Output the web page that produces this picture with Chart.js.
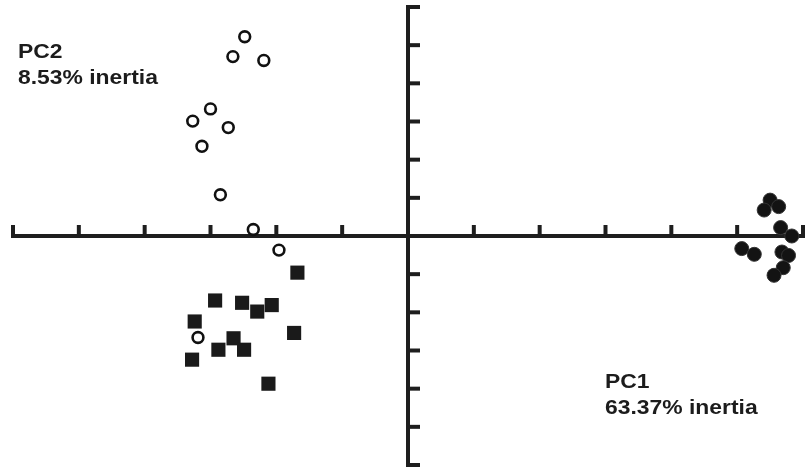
<!DOCTYPE html>
<html>
<head>
<meta charset="utf-8">
<script src="https://cdn.jsdelivr.net/npm/chart.js@4"></script>
<style>
  html, body { margin: 0; padding: 0; background: #ffffff; }
  #wrap { width: 811px; height: 470px; position: relative; }
</style>
</head>
<body>
<div id="wrap"><canvas id="c"></canvas></div>
<script>
// Tick values along both principal-component axes
const xTicks = [-6, -5, -4, -3, -2, -1, 0, 1, 2, 3, 4, 5, 6];
const yTicks = [-6, -5, -4, -3, -2, -1, 0, 1, 2, 3, 4, 5, 6];

// Group 1: open circles
const openX = [-2.48, -2.66, -2.19, -3.00, -3.27, -2.73, -3.13, -2.85, -2.35, -1.96, -3.19];
const openY = [5.22, 4.70, 4.60, 3.33, 3.01, 2.84, 2.35, 1.08, 0.17, -0.37, -2.66];

// Group 2: filled squares
const squareX = [-1.68, -2.93, -2.52, -2.07, -2.29, -3.24, -1.73, -2.65, -2.88, -2.49, -3.28, -2.12];
const squareY = [-0.96, -1.69, -1.75, -1.81, -1.98, -2.24, -2.54, -2.68, -2.98, -2.98, -3.24, -3.87];

// Group 3: filled circles
const dotX = [5.50, 5.41, 5.63, 5.66, 5.83, 5.07, 5.26, 5.68, 5.78, 5.70, 5.56];
const dotY = [0.94, 0.68, 0.77, 0.22, 0.00, -0.33, -0.48, -0.42, -0.51, -0.83, -1.03];

// Axis captions
const labelPC2 = ["PC2", "8.53% inertia"];
const labelPC1 = ["PC1", "63.37% inertia"];

function pts(xs, ys) { return xs.map((x, i) => ({ x: x, y: ys[i] })); }

const AXIS = '#1e1e1e';

const axesPlugin = {
  id: 'centerAxes',
  beforeDatasetsDraw(chart) {
    const ctx = chart.ctx;
    const xs = chart.scales.x, ys = chart.scales.y;
    const x0 = xs.getPixelForValue(0), y0 = ys.getPixelForValue(0);
    const xl = xs.getPixelForValue(xTicks[0]), xr = xs.getPixelForValue(xTicks[xTicks.length - 1]);
    const yt = ys.getPixelForValue(yTicks[yTicks.length - 1]), yb = ys.getPixelForValue(yTicks[0]);
    ctx.save();
    ctx.strokeStyle = AXIS;
    ctx.lineWidth = 4;
    ctx.lineCap = 'butt';
    // horizontal axis
    ctx.beginPath();
    ctx.moveTo(xl - 2, y0); ctx.lineTo(xr + 2, y0);
    ctx.stroke();
    // vertical axis
    ctx.beginPath();
    ctx.moveTo(x0, yt - 2); ctx.lineTo(x0, yb + 2);
    ctx.stroke();
    // x ticks (upward)
    xTicks.forEach(v => {
      if (v === 0) return;
      const px = xs.getPixelForValue(v);
      ctx.beginPath();
      ctx.moveTo(px, y0); ctx.lineTo(px, y0 - 11);
      ctx.stroke();
    });
    // y ticks (to the right)
    yTicks.forEach(v => {
      if (v === 0) return;
      const py = ys.getPixelForValue(v);
      ctx.beginPath();
      ctx.moveTo(x0, py); ctx.lineTo(x0 + 12, py);
      ctx.stroke();
    });
    ctx.restore();
  },
  afterDatasetsDraw(chart) {
    const ctx = chart.ctx;
    ctx.save();
    ctx.fillStyle = '#1c1c1c';
    ctx.font = 'bold 21px "Liberation Sans", Arial, sans-serif';
    ctx.textBaseline = 'alphabetic';
    const drawLines = (lines, x, y) => {
      lines.forEach((t, i) => {
        ctx.save();
        ctx.translate(x, y + i * 26);
        ctx.scale(1.09, 1);
        ctx.fillText(t, 0, 0);
        ctx.restore();
      });
    };
    drawLines(labelPC2, 18, 58);
    drawLines(labelPC1, 605, 388);
    ctx.restore();
  }
};

new Chart(document.getElementById('c'), {
  type: 'scatter',
  data: {
    datasets: [
      {
        label: 'open',
        data: pts(openX, openY),
        pointStyle: 'circle',
        pointRadius: 5.4,
        pointBackgroundColor: '#ffffff',
        pointBorderColor: '#111111',
        pointBorderWidth: 2.6,
        clip: false
      },
      {
        label: 'squares',
        data: pts(squareX, squareY),
        pointStyle: 'rect',
        pointRadius: 10,
        pointBackgroundColor: '#1a1a1a',
        pointBorderColor: '#1a1a1a',
        pointBorderWidth: 0,
        clip: false
      },
      {
        label: 'dots',
        data: pts(dotX, dotY),
        pointStyle: 'circle',
        pointRadius: 7,
        pointBackgroundColor: '#131313',
        pointBorderColor: '#333333',
        pointBorderWidth: 1,
        clip: false
      }
    ]
  },
  options: {
    responsive: true,
    maintainAspectRatio: false,
    devicePixelRatio: 1,
    animation: false,
    layout: { autoPadding: false, padding: { left: 13, right: 8, top: 7, bottom: 5 } },
    plugins: { legend: { display: false }, tooltip: { enabled: false } },
    scales: {
      x: { type: 'linear', min: -6, max: 6, display: false },
      y: { type: 'linear', min: -6, max: 6, display: false }
    }
  },
  plugins: [axesPlugin]
});
</script>
</body>
</html>
